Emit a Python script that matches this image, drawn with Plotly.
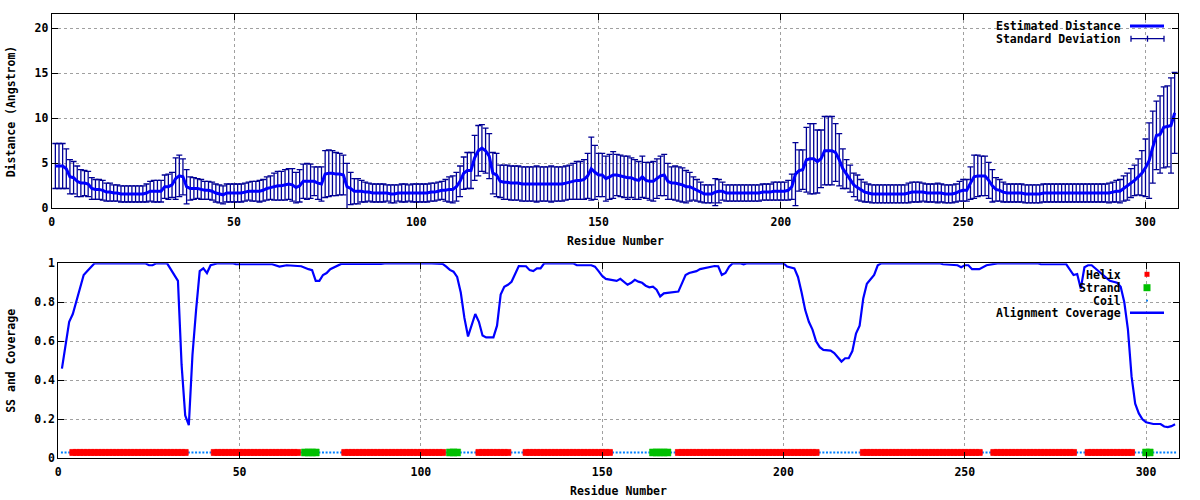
import plotly.graph_objects as go

# ---------------- data ----------------
residues = list(range(1, 309))

distance = [
    4.7, 4.7, 4.7, 4.4, 3.5, 3.4, 3.0, 2.8, 2.8, 2.7,
    2.2, 2.1, 2.1, 2.0, 1.8, 1.8, 1.7, 1.7, 1.6, 1.6,
    1.6, 1.6, 1.6, 1.6, 1.6, 1.7, 1.9, 1.9, 1.9, 1.9,
    2.4, 2.4, 2.6, 3.3, 3.6, 3.5, 2.4, 2.2, 2.2, 2.2,
    2.1, 2.0, 2.0, 1.9, 1.7, 1.6, 1.5, 1.7, 1.7, 1.7,
    1.7, 1.7, 1.8, 1.9, 1.9, 1.9, 1.9, 2.0, 2.2, 2.3,
    2.4, 2.5, 2.5, 2.6, 2.7, 2.6, 2.3, 2.5, 3.0, 3.0,
    3.0, 3.0, 2.8, 2.7, 3.8, 3.9, 3.9, 3.8, 3.8, 3.7,
    2.4, 2.2, 1.9, 1.9, 1.9, 1.8, 1.8, 1.7, 1.7, 1.7,
    1.7, 1.7, 1.6, 1.6, 1.7, 1.7, 1.7, 1.7, 1.7, 1.7,
    1.7, 1.7, 1.7, 1.8, 1.8, 1.9, 2.0, 2.0, 2.1, 2.1,
    2.4, 3.0, 3.9, 4.2, 4.2, 5.6, 6.4, 6.7, 6.4, 5.8,
    3.9, 3.7, 3.0, 2.9, 2.9, 2.8, 2.8, 2.8, 2.7, 2.7,
    2.7, 2.7, 2.7, 2.7, 2.7, 2.7, 2.7, 2.7, 2.7, 2.7,
    2.8, 2.9, 3.0, 3.1, 3.1, 3.2, 3.6, 4.4, 4.0, 3.7,
    3.7, 3.3, 3.5, 3.7, 3.7, 3.6, 3.5, 3.4, 3.4, 3.2,
    3.1, 3.5, 3.1, 3.0, 3.0, 3.3, 3.6, 3.7, 3.0, 2.8,
    2.8, 2.7, 2.6, 2.4, 2.4, 2.2, 2.0, 1.8, 1.6, 1.6,
    1.6, 1.8, 1.9, 1.9, 1.7, 1.7, 1.7, 1.7, 1.7, 1.7,
    1.7, 1.7, 1.7, 1.7, 1.8, 1.8, 1.8, 1.9, 1.9, 1.9,
    1.9, 2.0, 2.4, 3.8, 4.2, 4.3, 5.4, 5.5, 5.5, 5.2,
    5.5, 6.4, 6.4, 6.4, 6.2, 5.4, 4.4, 3.8, 3.3, 2.6,
    2.3, 2.0, 1.8, 1.7, 1.6, 1.6, 1.6, 1.6, 1.6, 1.6,
    1.6, 1.6, 1.6, 1.6, 1.7, 1.8, 1.8, 1.8, 1.8, 1.7,
    1.7, 1.7, 1.7, 1.7, 1.6, 1.6, 1.6, 1.7, 1.9, 2.0,
    2.0, 2.8, 3.5, 3.6, 3.6, 3.6, 3.1, 2.5, 2.1, 2.0,
    1.8, 1.7, 1.7, 1.7, 1.7, 1.7, 1.6, 1.6, 1.6, 1.6,
    1.6, 1.7, 1.7, 1.7, 1.7, 1.7, 1.7, 1.7, 1.7, 1.7,
    1.7, 1.7, 1.7, 1.7, 1.7, 1.7, 1.7, 1.7, 1.7, 1.7,
    1.8, 1.9, 1.9, 2.2, 2.4, 2.8, 3.1, 3.5, 3.9, 4.5,
    5.3, 6.8, 8.1, 8.2, 9.0, 9.1, 9.2, 10.6,
]

std_dev = [
    2.5, 2.5, 2.5, 2.2, 1.9, 1.8, 1.7, 1.5, 1.4, 1.4,
    1.2, 1.1, 1.1, 1.1, 1.0, 1.0, 0.9, 0.9, 0.9, 0.9,
    0.9, 0.9, 0.9, 0.9, 0.9, 1.0, 1.1, 1.2, 1.2, 1.2,
    1.3, 1.4, 1.4, 2.3, 2.3, 2.0, 1.9, 1.3, 1.2, 1.1,
    1.1, 1.0, 1.0, 1.0, 1.0, 1.0, 1.0, 1.0, 1.0, 1.0,
    1.0, 1.0, 1.0, 1.0, 1.1, 1.1, 1.2, 1.2, 1.3, 1.3,
    1.5, 1.6, 1.6, 1.7, 1.7, 1.8, 1.7, 1.8, 1.9, 2.0,
    1.9, 1.6, 1.8, 1.9, 2.6, 2.6, 2.5, 2.4, 2.3, 2.2,
    2.6, 1.8, 1.4, 1.4, 1.2, 1.1, 1.0, 1.0, 1.0, 1.0,
    1.0, 0.9, 1.0, 1.0, 0.9, 1.0, 1.0, 0.9, 1.0, 1.0,
    1.0, 1.0, 1.0, 1.0, 1.0, 1.0, 1.0, 1.2, 1.4, 1.5,
    1.6, 1.7, 1.8, 2.0, 2.0, 2.5, 2.8, 2.6, 2.5, 2.5,
    2.3, 2.4, 1.8, 1.9, 1.9, 1.9, 1.9, 1.9, 1.9, 1.9,
    1.9, 1.9, 2.0, 1.9, 1.9, 1.9, 2.0, 1.9, 1.9, 1.9,
    1.9, 1.9, 2.0, 2.1, 2.1, 2.2, 2.5, 3.5, 3.0, 2.4,
    2.4, 2.5, 2.5, 2.6, 2.3, 2.3, 2.3, 2.4, 2.2, 2.2,
    2.1, 2.3, 2.0, 2.1, 2.2, 2.2, 2.2, 2.3, 2.0, 1.8,
    1.9, 1.9, 1.9, 1.8, 1.6, 1.3, 1.2, 1.1, 1.0, 1.0,
    1.0, 1.5, 1.3, 1.0, 0.9, 0.9, 0.9, 0.9, 0.9, 0.9,
    0.9, 0.9, 0.9, 0.9, 0.9, 0.9, 0.9, 1.0, 1.0, 1.0,
    1.0, 1.1, 1.4, 3.5, 2.3, 2.2, 3.6, 3.9, 3.9, 3.5,
    3.2, 3.8, 3.8, 3.8, 3.2, 2.9, 2.2, 1.6, 1.5, 1.3,
    1.4, 1.2, 1.1, 1.0, 1.0, 1.0, 1.0, 1.0, 1.0, 1.0,
    1.0, 1.0, 1.0, 1.0, 1.1, 1.1, 1.1, 1.1, 1.0, 1.0,
    1.0, 1.0, 1.1, 1.0, 1.0, 1.0, 1.0, 1.0, 1.1, 1.2,
    1.2, 1.8, 2.4, 2.3, 2.2, 2.2, 2.0, 1.8, 1.3, 1.2,
    1.1, 1.0, 1.0, 1.0, 1.0, 1.0, 1.0, 1.0, 1.0, 1.0,
    1.0, 1.0, 1.0, 1.0, 1.0, 1.0, 1.0, 1.0, 1.0, 1.0,
    1.0, 1.0, 1.0, 1.0, 1.0, 1.0, 1.0, 1.0, 1.0, 1.1,
    1.1, 1.2, 1.3, 1.4, 1.5, 1.6, 1.7, 2.0, 2.5, 3.2,
    4.2, 4.0, 3.8, 4.3, 4.5, 4.5, 5.3, 4.5,
]

# secondary structure segments: (type, first residue, last residue)
ss_segments = [
    ("C", 1, 3), ("H", 4, 35), ("C", 36, 42), ("H", 43, 66), ("C", 67, 67),
    ("E", 68, 71), ("C", 72, 78), ("H", 79, 106), ("C", 107, 107), ("E", 108, 110),
    ("C", 111, 115), ("H", 116, 124), ("C", 125, 128), ("H", 129, 152),
    ("C", 153, 163), ("E", 164, 168), ("C", 169, 170), ("H", 171, 209),
    ("C", 210, 221), ("H", 222, 254), ("C", 255, 257), ("H", 258, 280),
    ("C", 281, 283), ("H", 284, 296), ("C", 297, 299), ("E", 300, 301),
    ("C", 302, 308),
]
ss_level = 0.03

cov_res = [1, 2, 3, 4, 5, 6, 7, 8, 9, 10, 24, 25, 26, 27, 30, 31, 32, 33, 34, 35,
           36, 37, 38, 39, 40, 41, 42, 44, 48, 49, 59, 61, 63, 67, 69, 70, 71, 72, 73, 74,
           75, 77, 78, 89, 90, 103, 106, 107, 108, 109, 110, 111, 112, 113, 114, 115, 116, 117, 118, 120,
           121, 122, 123, 124, 125, 126, 127, 129, 130, 131, 132, 133, 134, 142, 143, 147, 148, 149, 150, 151,
           153, 154, 155, 156, 157, 158, 159, 160, 161, 162, 163, 164, 165, 166, 167, 168, 169, 171, 172, 173,
           174, 176, 177, 181, 182, 183, 184, 185, 186, 188, 189, 190, 200, 201, 203, 204, 205, 206, 207, 208,
           209, 210, 211, 213, 214, 215, 216, 217, 218, 219, 220, 221, 222, 223, 224, 225, 226, 227, 243, 244,
           248, 249, 250, 251, 252, 254, 256, 259, 270, 271, 278, 279, 280, 281, 282, 283, 284, 285, 286, 288,
           290, 292, 293, 294, 295, 296, 297, 298, 299, 300, 302, 304, 305, 306, 307, 308]
cov_val = [0.46, 0.58, 0.70, 0.74, 0.81, 0.87, 0.94, 0.96, 0.98, 1.0, 1.0, 0.99, 0.99, 1.0, 1.0, 0.97, 0.94, 0.91, 0.48, 0.22,
           0.17, 0.53, 0.76, 0.96, 0.974, 0.95, 0.99, 1.0, 1.0, 0.995, 0.995, 0.983, 0.99, 0.985, 0.97, 0.965, 0.91, 0.91, 0.94, 0.95,
           0.97, 0.99, 0.997, 0.997, 1.0, 1.0, 0.997, 0.983, 0.966, 0.957, 0.93, 0.85, 0.72, 0.625, 0.68, 0.74, 0.70, 0.63, 0.62, 0.62,
           0.68, 0.84, 0.88, 0.89, 0.905, 0.95, 0.986, 0.985, 0.965, 0.96, 0.974, 0.974, 1.0, 1.0, 0.99, 0.99, 0.983, 0.96, 0.935, 0.92,
           0.915, 0.91, 0.92, 0.905, 0.89, 0.9, 0.915, 0.906, 0.9, 0.885, 0.877, 0.88, 0.865, 0.83, 0.846, 0.848, 0.85, 0.855, 0.897, 0.94,
           0.95, 0.96, 0.97, 0.986, 0.985, 0.94, 0.95, 0.983, 1.0, 1.0, 0.995, 1.0, 1.0, 0.983, 0.974, 0.93, 0.85, 0.76, 0.70, 0.66,
           0.60, 0.57, 0.556, 0.552, 0.54, 0.515, 0.496, 0.513, 0.513, 0.55, 0.64, 0.68, 0.82, 0.895, 0.915, 0.94, 0.99, 1.0, 1.0, 0.995,
           0.99, 0.98, 0.99, 0.99, 0.97, 0.97, 0.99, 1.0, 1.0, 0.995, 0.995, 0.97, 0.94, 0.945, 0.87, 0.98, 0.99, 0.99, 0.975, 0.94,
           0.91, 0.90, 0.88, 0.80, 0.66, 0.42, 0.28, 0.23, 0.20, 0.185, 0.176, 0.176, 0.163, 0.16, 0.165, 0.175]

top_yticks = [0, 5, 10, 15, 20]
bot_yticks = [0, 0.2, 0.4, 0.6, 0.8, 1]
bot_yticklabels = ["0", "0.2", "0.4", "0.6", "0.8", "1"]
xticks = [0, 50, 100, 150, 200, 250, 300]

# ---------------- styling helpers ----------------
W, H = 1200, 500
FONT = dict(family="DejaVu Sans Mono", size=11.5, color="black", weight="bold")
GRID = "#a0a0a0"


def px(x):
    return x / W


def py(y):
    return 1 - y / H


# expand SS segments per residue
ss_x = {"H": [], "E": [], "C": []}
for kind, a, b in ss_segments:
    ss_x[kind].extend(range(a, b + 1))

fig = go.Figure()

# Top panel
fig.add_trace(go.Scatter(
    x=residues, y=distance, mode="markers", xaxis="x", yaxis="y",
    marker=dict(size=1, color="rgba(0,0,0,0)"),
    error_y=dict(type="data", array=std_dev, visible=True, color="#000095",
                 thickness=1.3, width=3),
    showlegend=False, hoverinfo="skip"))
fig.add_trace(go.Scatter(
    x=residues, y=distance, mode="lines", xaxis="x", yaxis="y",
    line=dict(color="#0000ff", width=3), showlegend=False))

# Bottom panel
fig.add_trace(go.Scatter(
    x=ss_x["C"], y=[ss_level] * len(ss_x["C"]), mode="markers", xaxis="x2", yaxis="y2",
    marker=dict(symbol="square", size=2, color="#0080ff", line=dict(width=0)),
    showlegend=False))
fig.add_trace(go.Scatter(
    x=ss_x["H"], y=[ss_level] * len(ss_x["H"]), mode="markers", xaxis="x2", yaxis="y2",
    marker=dict(symbol="square", size=6, color="#ff0000", line=dict(width=0.8, color="#ff0000")),
    showlegend=False))
fig.add_trace(go.Scatter(
    x=ss_x["E"], y=[ss_level] * len(ss_x["E"]), mode="markers", xaxis="x2", yaxis="y2",
    marker=dict(symbol="square", size=7, color="#00c000", line=dict(width=0.5, color="#00c000")),
    showlegend=False))
fig.add_trace(go.Scatter(
    x=cov_res, y=cov_val, mode="lines", xaxis="x2", yaxis="y2",
    line=dict(color="#0000ff", width=2.2), showlegend=False))

axis_common = dict(
    showline=True, linecolor="black", linewidth=1, mirror="ticks",
    ticks="inside", ticklen=6, tickcolor="black", tickwidth=1,
    showgrid=True, gridcolor=GRID, griddash="dot", gridwidth=1,
    zeroline=False, tickfont=FONT, automargin=False,
)

fig.update_layout(
    width=W, height=H, autosize=False,
    margin=dict(l=0, r=0, t=0, b=0),
    paper_bgcolor="white", plot_bgcolor="white",
    font=FONT,
    xaxis=dict(domain=[px(51.7), px(1178.3)], range=[0, 309], anchor="y",
               tickvals=xticks, ticklabelstandoff=3, **axis_common),
    yaxis=dict(domain=[py(208.3), py(14.3)], range=[0, 21.56], anchor="x",
               tickvals=top_yticks, **axis_common),
    xaxis2=dict(domain=[px(58.3), px(1178.7)], range=[0, 309], anchor="y2",
                tickvals=xticks, ticklabelstandoff=3, **axis_common),
    yaxis2=dict(domain=[py(458.3), py(263.3)], range=[0, 1], anchor="x2",
                tickvals=bot_yticks, ticktext=bot_yticklabels, **axis_common),
)

shapes = []
annotations = []


def text(t, x, y, anchor="right", angle=0):
    annotations.append(dict(text=t, x=px(x), y=py(y), xref="paper", yref="paper",
                            xanchor=anchor, yanchor="middle", showarrow=False,
                            textangle=angle, font=FONT))


def line(x0, y0, x1, y1, color, width):
    shapes.append(dict(type="line", xref="paper", yref="paper",
                       x0=px(x0), y0=py(y0), x1=px(x1), y1=py(y1),
                       line=dict(color=color, width=width), layer="above"))


def rect(x0, y0, x1, y1, color, layer="above"):
    shapes.append(dict(type="rect", xref="paper", yref="paper",
                       x0=px(x0), y0=py(y0), x1=px(x1), y1=py(y1),
                       fillcolor=color, line=dict(width=0), layer=layer))


# axis titles
text("Distance (Angstrom)", 11, 111.3, anchor="center", angle=-90)
text("Residue Number", 615, 240.7, anchor="center")
text("SS and Coverage", 11, 360.8, anchor="center", angle=-90)
text("Residue Number", 618.5, 490.7, anchor="center")

# legend backgrounds (cover the grid, stay below the data)
rect(997, 14.8, 1177.8, 45, "white", layer="between")
rect(999, 263.8, 1178.2, 319, "white", layer="between")

# top legend
text("Estimated Distance", 1122.7, 26)
line(1130, 26, 1164, 26, "#0000ff", 3)
text("Standard Deviation", 1122.7, 38.7)
line(1131, 38.7, 1164, 38.7, "#000095", 1.3)
for xx in (1131, 1147.5, 1164):
    line(xx, 35.7, xx, 41.7, "#000095", 1.3)

# bottom legend
text("Helix", 1122.7, 275)
rect(1144.5, 271.8, 1149.5, 276.8, "#ff0000")
text("Strand", 1122.7, 288)
rect(1143.5, 284.2, 1150.5, 291.2, "#00c000")
text("Coil", 1122.7, 301)
rect(1146.2, 299.8, 1148, 301.6, "#0080ff")
text("Alignment Coverage", 1122.7, 313)
line(1130, 312.7, 1164, 312.7, "#0000ff", 2.5)

fig.update_layout(shapes=shapes, annotations=annotations)

fig.write_html("out.html", config={"displayModeBar": False},
               post_script="document.body.style.margin='0';")
